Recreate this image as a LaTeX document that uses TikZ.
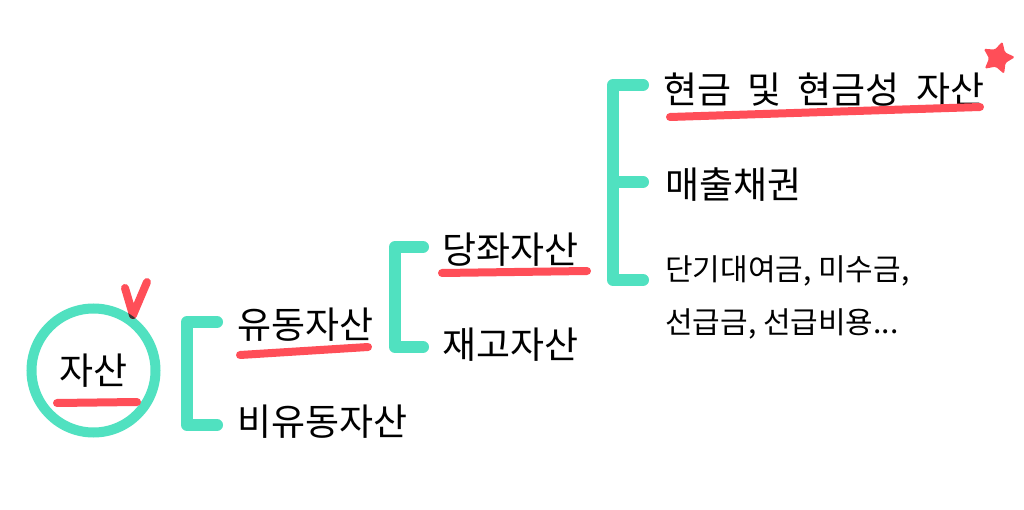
\documentclass[tikz,border=0pt]{standalone}
\usepackage{fontspec}
\newfontfamily\kr{Noto Sans CJK KR}
\usetikzlibrary{shapes.geometric}
\definecolor{teal1}{RGB}{80,225,192}
\definecolor{red1}{RGB}{255,78,88}
\definecolor{dark1}{RGB}{60,50,50}
\tikzset{
  lbl/.style={inner sep=0pt, anchor=west, font=\kr\fontsize{37}{44}\selectfont},
  smalllbl/.style={inner sep=0pt, anchor=west, align=left, font=\kr\fontsize{30}{53}\selectfont},
  bracket/.style={draw=teal1, line width=12pt, line cap=round, line join=round},
  redline/.style={draw=red1, line width=8pt, line cap=round, line join=round},
}
\begin{document}
\begin{tikzpicture}[x=1pt,y=-1pt]
\useasboundingbox[fill=white] (0,0) rectangle (1024,510);

% root circle
\node[circle, draw=teal1, line width=10pt, minimum size=124pt, inner sep=0pt,
      font=\kr\fontsize{37}{44}\selectfont] (jasan) at (93.5,370.5) {자산};
\draw[redline] (57,403) -- (137,402);
% check mark
\coordinate (v1) at (125,288);
\coordinate (v2) at (133,315);
\coordinate (v3) at (147,282);
\draw[redline] (v1) -- (v2) -- (v3);
\begin{scope}[even odd rule]
  \clip (jasan.center) circle (67) (jasan.center) circle (57);
  \draw[redline, draw=dark1] (v1) -- (v2) -- (v3);
\end{scope}

% level 1
\node[lbl] (yudong) at (237,325) {유동자산};
\node[lbl] (biyudong) at (237,422) {비유동자산};
\draw[redline] (240,355) -- (368,347);
\coordinate (b1t) at (217,322);
\coordinate (b1b) at (217,425);
\draw[bracket] (b1t) -- (187,322) -- (187,425) -- (b1b);

% level 2
\node[lbl] (dangjwa) at (442,250) {당좌자산};
\node[lbl] (jaego) at (442,345) {재고자산};
\draw[redline] (442,273) -- (587,271);
\coordinate (b2t) at (423,247);
\coordinate (b2b) at (423,347);
\draw[bracket] (b2t) -- (395,247) -- (395,347) -- (b2b);

% level 3
\node[lbl] (hyeon) at (663,90) {현금\hspace{8pt} 및\hspace{8pt} 현금성\hspace{8pt} 자산};
\node[lbl] (maechul) at (665,185) {매출채권};
\node[smalllbl] (danggi) at (665,297) {단기대여금, 미수금,\\선급금, 선급비용...};
\draw[redline] (670,117) -- (980,107);
\coordinate (b3t) at (643,85);
\coordinate (b3m) at (643,182);
\coordinate (b3b) at (643,280);
\draw[bracket] (b3t) -- (613,85) -- (613,280) -- (b3b);
\draw[bracket] (613,182) -- (b3m);

% star
\node[star, star points=5, star point ratio=1.9, fill=red1, minimum size=34pt,
      inner sep=0pt, rotate=-15, rounded corners=1.5pt] (star) at (998,58) {};
\end{tikzpicture}
\end{document}
